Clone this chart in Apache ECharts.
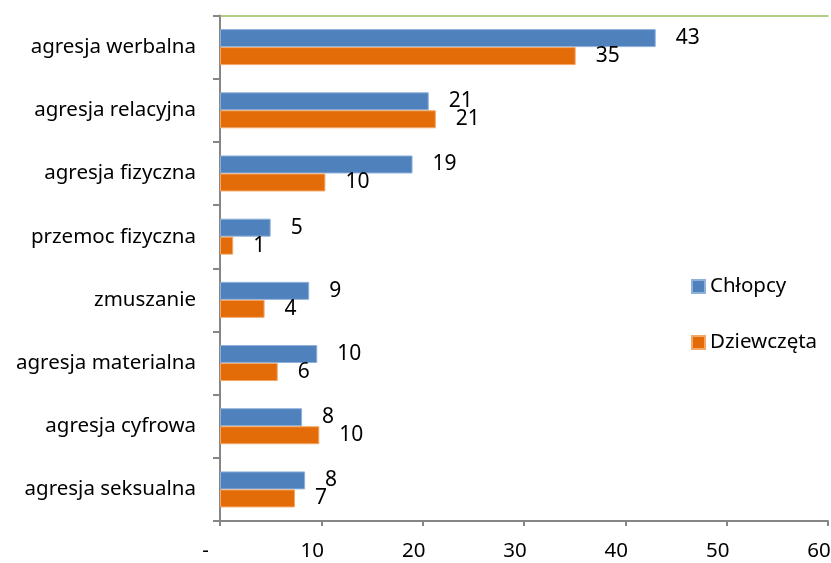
<!DOCTYPE html>
<html>
<head>
    <meta charset="utf-8">
    <script src="https://cdn.jsdelivr.net/npm/echarts@6/dist/echarts.min.js"></script>
    <style>
        html, body { margin: 0; padding: 0; background: #fff; }
        #chart { width: 831px; height: 563px; }
    </style>
</head>
<body>
<div id="chart"></div>
<script>
// kategorie (od góry)
var kategorie = ['agresja werbalna', 'agresja relacyjna', 'agresja fizyczna', 'przemoc fizyczna',
    'zmuszanie', 'agresja materialna', 'agresja cyfrowa', 'agresja seksualna'];
// Chłopcy
var chlopcy = [43.0, 20.6, 19.0, 5.0, 8.8, 9.6, 8.1, 8.4];
// Dziewczęta
var dziewczeta = [35.1, 21.3, 10.4, 1.3, 4.4, 5.7, 9.8, 7.4];
// oś x
var osMin = 0, osMax = 60, osKrok = 10;

var fontTxt = 'Noto Sans';

var chart = echarts.init(document.getElementById('chart'));

function etykieta() {
    return {
        show: true,
        position: 'right',
        distance: 20,
        color: '#000',
        fontFamily: fontTxt,
        fontSize: 21,
        formatter: function (p) {
            return Math.round(p.value);
        }
    };
}

var option = {
    animation: false,
    legend: {
        orient: 'vertical',
        left: 686,
        top: 271,
        itemWidth: 13,
        itemHeight: 13,
        itemGap: 35,
        icon: 'rect',
        textStyle: {
            color: '#000',
            fontFamily: fontTxt,
            fontSize: 20.5
        },
        data: ['Chłopcy', 'Dziewczęta']
    },
    grid: {
        left: 220,
        right: 3,
        top: 15.5,
        bottom: 42,
        outerBoundsMode: 'none'
    },
    xAxis: [{
        type: 'value',
        min: osMin,
        max: osMax,
        interval: osKrok,
        axisLine: {
            show: true,
            lineStyle: { color: '#868686', width: 2 }
        },
        axisTick: {
            show: true,
            length: 5,
            lineStyle: { color: '#868686', width: 2 }
        },
        axisLabel: {
            margin: 20,
            padding: [0, 18, 0, 0],
            color: '#000',
            fontFamily: fontTxt,
            fontSize: 20.5,
            formatter: function (v) {
                // format księgowy: zero jako myślnik
                return v === 0 ? '-  ' : v;
            }
        },
        splitLine: { show: false }
    }, {
        type: 'value',
        position: 'top',
        min: osMin,
        max: osMax,
        axisLine: {
            show: true,
            lineStyle: { color: '#9bbb59', width: 1.5 }
        },
        axisTick: { show: false },
        axisLabel: { show: false },
        splitLine: { show: false }
    }],
    yAxis: {
        type: 'category',
        inverse: true,
        data: kategorie,
        axisLine: {
            show: true,
            lineStyle: { color: '#868686', width: 2 }
        },
        axisTick: {
            show: true,
            length: 7,
            lineStyle: { color: '#868686', width: 2 }
        },
        axisLabel: {
            margin: 24,
            color: '#000',
            fontFamily: fontTxt,
            fontSize: 20.5
        }
    },
    series: [{
        name: 'Chłopcy',
        type: 'bar',
        barWidth: 18,
        barGap: 0,
        itemStyle: {
            color: '#4f81bd',
            borderColor: '#8fb0da',
            borderWidth: 1
        },
        label: etykieta(),
        data: chlopcy
    }, {
        name: 'Dziewczęta',
        type: 'bar',
        barWidth: 18,
        barGap: 0,
        itemStyle: {
            color: '#e36c09',
            borderColor: '#f3a868',
            borderWidth: 1
        },
        label: etykieta(),
        data: dziewczeta
    }]
};
chart.setOption(option);
</script>
</body>
</html>
